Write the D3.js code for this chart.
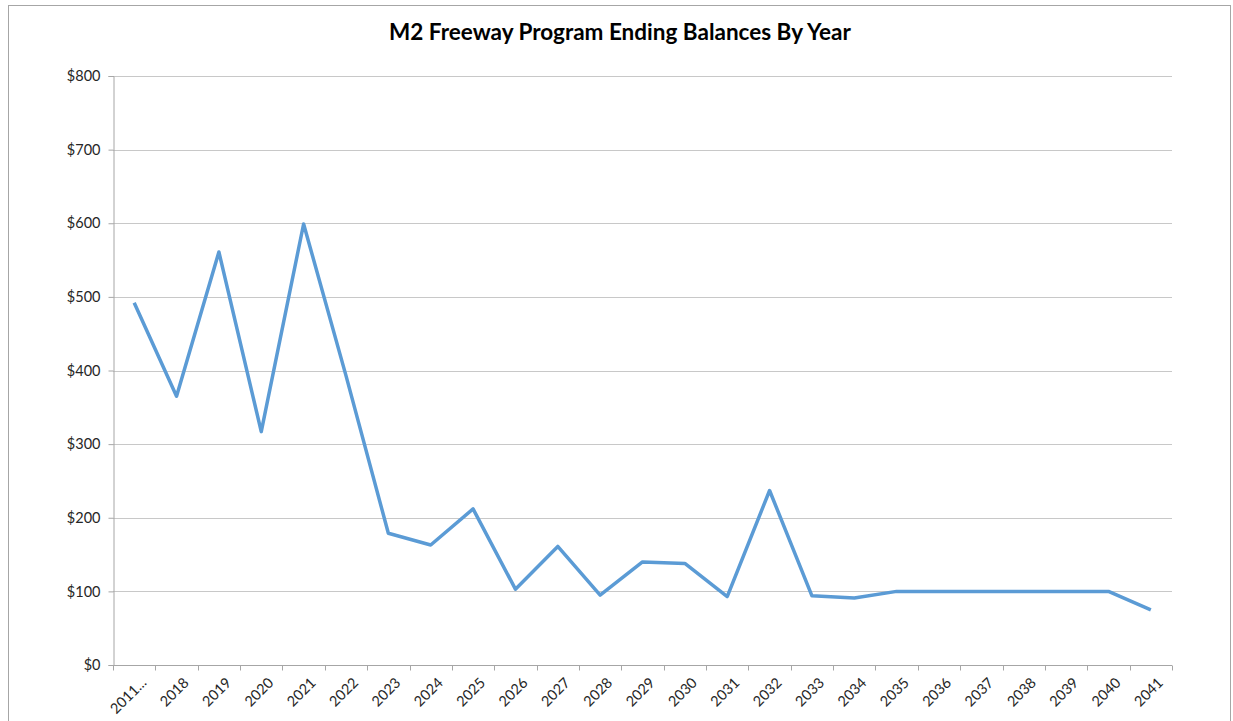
<!DOCTYPE html>
<html>
<head>
<meta charset="utf-8">
<script src="https://cdn.jsdelivr.net/npm/d3@7"></script>
<style>
  body { margin: 0; background: #fff; }
  text { font-family: Lato, "Open Sans", sans-serif; fill: #262626; }
</style>
</head>
<body>
<svg width="1233" height="721"></svg>
<script>
var svg = d3.select("svg"),
    width = +svg.attr("width"),
    height = +svg.attr("height");

// ending balances, $ millions
var balances = [
  {"year": "2011...", "value": 492},
  {"year": "2018", "value": 365},
  {"year": "2019", "value": 561},
  {"year": "2020", "value": 317},
  {"year": "2021", "value": 599},
  {"year": "2022", "value": 393},
  {"year": "2023", "value": 179},
  {"year": "2024", "value": 163},
  {"year": "2025", "value": 212},
  {"year": "2026", "value": 103},
  {"year": "2027", "value": 161},
  {"year": "2028", "value": 95},
  {"year": "2029", "value": 140},
  {"year": "2030", "value": 138},
  {"year": "2031", "value": 93},
  {"year": "2032", "value": 237},
  {"year": "2033", "value": 94},
  {"year": "2034", "value": 91},
  {"year": "2035", "value": 100},
  {"year": "2036", "value": 100},
  {"year": "2037", "value": 100},
  {"year": "2038", "value": 100},
  {"year": "2039", "value": 100},
  {"year": "2040", "value": 100},
  {"year": "2041", "value": 75}
];

var margin = {top: 76, right: 61, bottom: 56, left: 113};
var plotW = width - margin.left - margin.right,
    plotH = height - margin.top - margin.bottom;

// chart frame
svg.append("rect")
    .attr("x", 8.5).attr("y", 5.5)
    .attr("width", 1222).attr("height", 730)
    .attr("fill", "none").attr("stroke", "#a6a6a6");

svg.append("text")
    .attr("x", 620).attr("y", 40)
    .attr("text-anchor", "middle")
    .style("font-size", "22.5px").style("font-weight", "bold")
    .style("fill", "#000")
    .text("M2 Freeway Program Ending Balances By Year");

var g = svg.append("g")
    .attr("transform", "translate(" + margin.left + "," + margin.top + ")");

var x = d3.scaleBand()
    .domain(balances.map(function(d) { return d.year; }))
    .range([0, plotW]);

var y = d3.scaleLinear()
    .domain([0, 800])
    .range([plotH, 0]);

// gridlines
g.append("g")
    .selectAll("line")
    .data(y.ticks(8).filter(function(t) { return t > 0; }))
    .enter().append("line")
      .attr("x1", 0).attr("x2", plotW)
      .attr("y1", function(d) { return Math.round(y(d)) + 0.5; })
      .attr("y2", function(d) { return Math.round(y(d)) + 0.5; })
      .attr("stroke", "#c8c8c8");

// y axis
var yAxis = g.append("g")
    .attr("transform", "translate(0.5,0)")
    .call(d3.axisLeft(y).ticks(8).tickSize(5).tickPadding(8)
      .tickFormat(function(d) { return "$" + d; }));
yAxis.select(".domain").attr("stroke", "#a6a6a6");
yAxis.selectAll(".tick line").attr("stroke", "#a6a6a6");
yAxis.selectAll("text").style("font-size", "14.5px").attr("fill", "#262626");

// x axis, ticks on category boundaries
var xAxis = g.append("g")
    .attr("transform", "translate(0," + (Math.round(plotH) + 0.5) + ")");
xAxis.append("line")
    .attr("x1", 0).attr("x2", plotW)
    .attr("stroke", "#a6a6a6");
xAxis.selectAll(".bound")
    .data(balances.map(function(d) { return x(d.year); }).concat([plotW]))
    .enter().append("line")
      .attr("class", "bound")
      .attr("x1", function(d) { return Math.round(d) + 0.5; })
      .attr("x2", function(d) { return Math.round(d) + 0.5; })
      .attr("y1", 0).attr("y2", 5)
      .attr("stroke", "#a6a6a6");
xAxis.selectAll(".lbl")
    .data(balances)
    .enter().append("text")
      .attr("class", "lbl")
      .attr("text-anchor", "end")
      .style("font-size", "14.5px")
      .attr("transform", function(d) {
        return "translate(" + (x(d.year) + x.bandwidth() / 2 + 6) + ",11) rotate(-45)";
      })
      .attr("dy", "0.7em")
      .text(function(d) { return d.year; });

// balance line
var line = d3.line()
    .x(function(d) { return x(d.year) + x.bandwidth() / 2; })
    .y(function(d) { return y(d.value); });

g.append("path")
    .datum(balances)
    .attr("fill", "none")
    .attr("stroke", "#5b9bd5")
    .attr("stroke-width", 3.5)
    .attr("stroke-linejoin", "round")
    .attr("d", line);
</script>
</body>
</html>
